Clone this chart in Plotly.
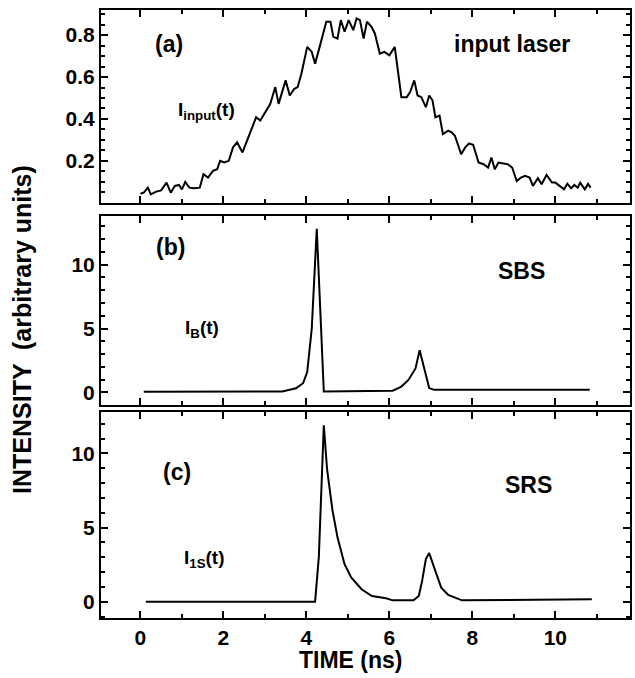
import plotly.graph_objects as go

# ---------------- data ----------------
t_input = [0.00, 0.08, 0.18, 0.25, 0.38, 0.50, 0.63, 0.73, 0.83, 0.93, 1.00, 1.08, 1.18, 1.29, 1.43,
           1.52, 1.63, 1.75, 1.85, 1.92, 2.02, 2.13, 2.23, 2.33, 2.46, 2.58, 2.79, 2.89, 3.00, 3.13,
           3.25, 3.33, 3.50, 3.60, 3.71, 3.79, 3.88, 4.02, 4.13, 4.21, 4.32, 4.48, 4.58, 4.65, 4.75,
           4.83, 4.92, 5.02, 5.13, 5.21, 5.29, 5.38, 5.46, 5.57, 5.65, 5.77, 5.88, 6.00, 6.13, 6.29,
           6.42, 6.50, 6.60, 6.68, 6.77, 6.88, 6.96, 7.04, 7.11, 7.21, 7.29, 7.42, 7.50, 7.58, 7.73,
           7.83, 7.92, 8.02, 8.15, 8.27, 8.38, 8.46, 8.54, 8.63, 8.75, 8.85, 8.96, 9.07, 9.17, 9.27,
           9.38, 9.46, 9.58, 9.67, 9.79, 9.92, 10.00, 10.10, 10.21, 10.29, 10.38, 10.46, 10.54, 10.60,
           10.71, 10.79, 10.85]
i_input = [0.043, 0.048, 0.072, 0.040, 0.053, 0.059, 0.096, 0.048, 0.080, 0.085, 0.064, 0.099, 0.072, 0.069, 0.072,
           0.136, 0.120, 0.152, 0.160, 0.200, 0.192, 0.200, 0.264, 0.288, 0.240, 0.304, 0.408, 0.392, 0.432, 0.472,
           0.552, 0.472, 0.584, 0.512, 0.544, 0.552, 0.616, 0.744, 0.720, 0.664, 0.744, 0.864, 0.864, 0.792, 0.784,
           0.872, 0.816, 0.872, 0.824, 0.880, 0.872, 0.784, 0.864, 0.840, 0.808, 0.712, 0.720, 0.704, 0.744, 0.504,
           0.504, 0.528, 0.584, 0.512, 0.504, 0.456, 0.512, 0.488, 0.408, 0.416, 0.328, 0.344, 0.336, 0.320, 0.232,
           0.264, 0.283, 0.277, 0.192, 0.184, 0.168, 0.216, 0.160, 0.192, 0.187, 0.184, 0.168, 0.104, 0.120, 0.128,
           0.120, 0.080, 0.117, 0.088, 0.133, 0.096, 0.096, 0.080, 0.064, 0.091, 0.069, 0.085, 0.072, 0.096,
           0.064, 0.090, 0.072]

t_sbs = [0.08, 3.42, 3.75, 3.92, 4.02, 4.13, 4.25, 4.42, 6.08, 6.29, 6.46, 6.63, 6.73, 6.96, 7.08, 10.83]
i_sbs = [0.05, 0.08, 0.33, 0.72, 1.6, 5.0, 12.8, 0.08, 0.13, 0.46, 0.98, 1.88, 3.3, 0.34, 0.2, 0.2]

t_srs = [0.13, 4.21, 4.30, 4.42, 4.50, 4.63, 4.75, 4.92, 5.08, 5.33, 5.58, 5.92, 6.08, 6.58, 6.71, 6.79,
         6.88, 6.96, 7.08, 7.25, 7.42, 7.67, 7.75, 10.88]
i_srs = [0.0, 0.0, 3.0, 11.9, 8.9, 6.15, 4.34, 2.53, 1.63, 0.84, 0.38, 0.23, 0.09, 0.09, 0.38, 1.4,
         2.87, 3.28, 2.3, 0.95, 0.45, 0.16, 0.09, 0.16]

x_ticks = [0, 2, 4, 6, 8, 10]
ya_ticks = [0.2, 0.4, 0.6, 0.8]
yb_ticks = [0, 5, 10]
yc_ticks = [0, 5, 10]

# ---------------- figure ----------------
FONT = "Liberation Sans"
line = dict(color="black", width=2)

fig = go.Figure()
fig.add_trace(go.Scatter(x=t_input, y=i_input, mode="lines", line=line, xaxis="x", yaxis="y"))
fig.add_trace(go.Scatter(x=t_sbs, y=i_sbs, mode="lines", line=line, xaxis="x2", yaxis="y2"))
fig.add_trace(go.Scatter(x=t_srs, y=i_srs, mode="lines", line=line, xaxis="x3", yaxis="y3"))

def axis_common():
    return dict(showline=True, linecolor="black", linewidth=2, mirror="allticks",
                ticks="inside", ticklen=7, tickwidth=2, tickcolor="black",
                showgrid=False, zeroline=False,
                tickfont=dict(family=FONT, size=21, color="black", weight="bold"))

def minor(d):
    return dict(ticks="inside", ticklen=4, tickwidth=1.5, tickcolor="black", dtick=d, tick0=0)

xr = [-0.95, 11.8]
xa = axis_common(); xa.update(range=xr, tickvals=x_ticks, showticklabels=False, anchor="y", minor=minor(1))
xb = axis_common(); xb.update(range=xr, tickvals=x_ticks, showticklabels=False, anchor="y2", minor=minor(1))
xc = axis_common(); xc.update(range=xr, tickvals=x_ticks, showticklabels=True, anchor="y3", minor=minor(1))

ya = axis_common(); ya.update(range=[0.0, 0.92], tickvals=ya_ticks, ticktext=["0.2", "0.4", "0.6", "0.8"],
                              domain=[0.683, 1.0], anchor="x", minor=minor(0.05))
yb = axis_common(); yb.update(range=[-1.0, 13.8], tickvals=yb_ticks, domain=[0.350, 0.661], anchor="x2",
                              minor=minor(1))
yc = axis_common(); yc.update(range=[-1.1, 12.8], tickvals=yc_ticks, domain=[0.0, 0.339], anchor="x3",
                              minor=minor(1))

fig.update_layout(
    width=635, height=678,
    margin=dict(l=101, r=3, t=10, b=60),
    paper_bgcolor="white", plot_bgcolor="white",
    showlegend=False,
    xaxis=xa, xaxis2=xb, xaxis3=xc,
    yaxis=ya, yaxis2=yb, yaxis3=yc,
    font=dict(family=FONT, color="black"),
)

lab = dict(family=FONT, size=23, color="black", weight="bold")
sub = dict(family=FONT, size=19, color="black", weight="bold")
ann = [
    dict(x=0.3, y=0.76, xref="x", yref="y", text="(a)", xanchor="left", yanchor="middle", font=lab),
    dict(x=7.5, y=0.76, xref="x", yref="y", text="input laser", xanchor="left", yanchor="middle", font=lab),
    dict(x=0.85, y=0.44, xref="x", yref="y", text="I<sub>input</sub>(t)", xanchor="left", yanchor="middle", font=sub),
    dict(x=0.33, y=11.4, xref="x2", yref="y2", text="(b)", xanchor="left", yanchor="middle", font=lab),
    dict(x=8.58, y=9.5, xref="x2", yref="y2", text="SBS", xanchor="left", yanchor="middle", font=lab),
    dict(x=1.02, y=5.0, xref="x2", yref="y2", text="I<sub>B</sub>(t)", xanchor="left", yanchor="middle", font=sub),
    dict(x=0.5, y=8.75, xref="x3", yref="y3", text="(c)", xanchor="left", yanchor="middle", font=lab),
    dict(x=8.75, y=7.85, xref="x3", yref="y3", text="SRS", xanchor="left", yanchor="middle", font=lab),
    dict(x=1.0, y=2.9, xref="x3", yref="y3", text="I<sub>1S</sub>(t)", xanchor="left", yanchor="middle", font=sub),
    dict(x=5.08, y=-0.069, xref="x3", yref="paper", text="TIME (ns)", xanchor="center", yanchor="middle",
         showarrow=False, font=lab),
    dict(x=-0.149, y=0.474, xref="paper", yref="paper", text="INTENSITY  (arbitrary units)", textangle=-90,
         xanchor="center", yanchor="middle", showarrow=False,
         font=dict(family=FONT, size=25, color="black", weight="bold")),
]
for a in ann:
    a.setdefault("showarrow", False)
fig.update_layout(annotations=ann)

fig.write_html("out.html")
